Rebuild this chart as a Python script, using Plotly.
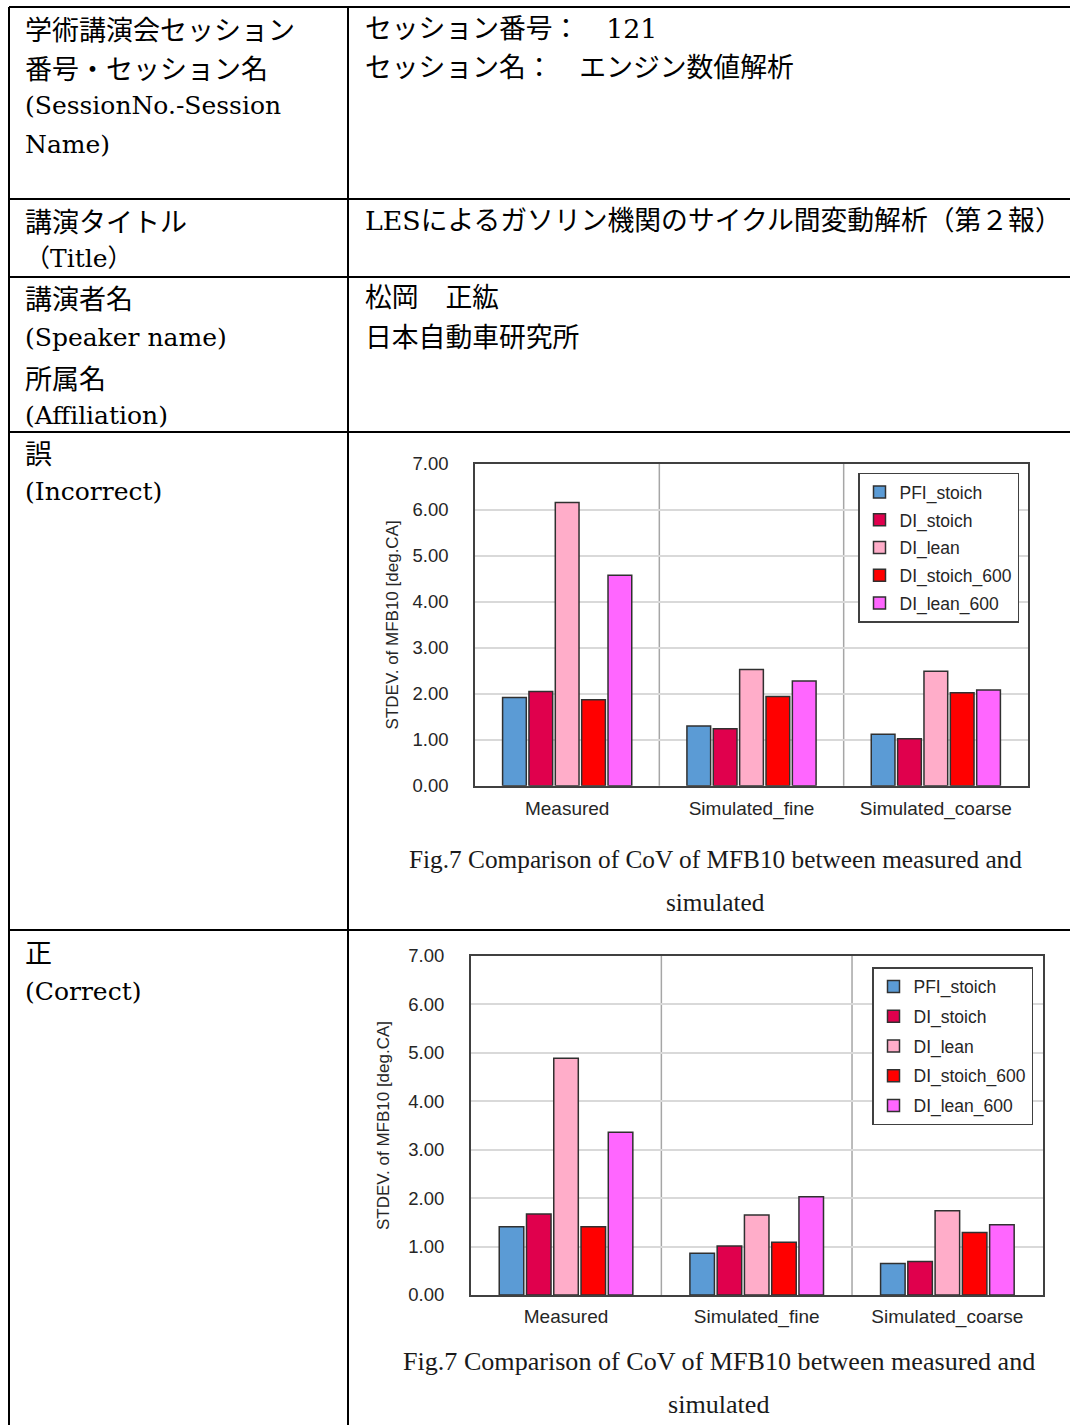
import plotly.graph_objects as go

# ---------------- data ----------------
categories = ["Measured", "Simulated_fine", "Simulated_coarse"]
series_names = ["PFI_stoich", "DI_stoich", "DI_lean", "DI_stoich_600", "DI_lean_600"]
series_colors = ["#5B9BD5", "#E0004D", "#FFADC9", "#FF0000", "#FF66FF"]

# 誤 (Incorrect) chart
incorrect_pfi_stoich = [1.92, 1.30, 1.12]
incorrect_di_stoich = [2.05, 1.24, 1.02]
incorrect_di_lean = [6.16, 2.53, 2.49]
incorrect_di_stoich_600 = [1.87, 1.94, 2.02]
incorrect_di_lean_600 = [4.58, 2.28, 2.08]

# 正 (Correct) chart
correct_pfi_stoich = [1.41, 0.86, 0.65]
correct_di_stoich = [1.67, 1.01, 0.69]
correct_di_lean = [4.89, 1.65, 1.74]
correct_di_stoich_600 = [1.41, 1.09, 1.29]
correct_di_lean_600 = [3.36, 2.03, 1.45]

y_tick_values = [0, 1, 2, 3, 4, 5, 6, 7]
y_axis_title = "STDEV. of MFB10 [deg.CA]"
caption_line1 = "Fig.7 Comparison of CoV of MFB10 between measured and"
caption_line2 = "simulated"

left_column_text = [
    "学術講演会セッション", "番号・セッション名", "(SessionNo.-Session", "Name)",
    "講演タイトル", "（Title）",
    "講演者名", "(Speaker name)", "所属名", "(Affiliation)",
    "誤", "(Incorrect)",
    "正", "(Correct)",
]
right_column_text = [
    "セッション番号：　121",
    "セッション名：　エンジン数値解析",
    "LESによるガソリン機関のサイクル間変動解析（第２報）",
    "松岡　正紘",
    "日本自動車研究所",
]

# ---------------- layout helpers ----------------
W, H = 1070, 1425


def px(x):
    return x / W


def py(y):
    return 1 - y / H


JP = "Noto Sans CJK JP"
SERIF = "DejaVu Serif, Noto Sans CJK JP"
SANS = "Liberation Sans, Arial, sans-serif"

fig = go.Figure()

incorrect_series = [incorrect_pfi_stoich, incorrect_di_stoich, incorrect_di_lean,
                    incorrect_di_stoich_600, incorrect_di_lean_600]
correct_series = [correct_pfi_stoich, correct_di_stoich, correct_di_lean,
                  correct_di_stoich_600, correct_di_lean_600]

for i, (name, vals) in enumerate(zip(series_names, incorrect_series)):
    fig.add_trace(go.Bar(
        x=categories, y=vals, name=name, xaxis="x", yaxis="y",
        marker=dict(color=series_colors[i], line=dict(color="#303030", width=1.5)),
        legend="legend", legendgroup=f"a{i}",
    ))
for i, (name, vals) in enumerate(zip(series_names, correct_series)):
    fig.add_trace(go.Bar(
        x=categories, y=vals, name=name, xaxis="x2", yaxis="y2",
        marker=dict(color=series_colors[i], line=dict(color="#303030", width=1.5)),
        legend="legend2", legendgroup=f"b{i}",
    ))


def xaxis_cfg(x0, x1, anchor, standoff):
    return dict(
        domain=[px(x0), px(x1)], anchor=anchor, type="category",
        range=[-0.5, 2.5], showline=True, linecolor="#404040", linewidth=1.5,
        mirror=True, showgrid=False, ticks="", ticklabelstandoff=standoff,
        tickfont=dict(family=SANS, size=19, color="#262626"), automargin=False,
    )


def yaxis_cfg(ytop, ybot, anchor, standoff):
    return dict(
        domain=[py(ybot), py(ytop)], anchor=anchor, range=[0, 7],
        tickvals=y_tick_values, tickformat=".2f", showgrid=True,
        gridcolor="#D9D9D9", gridwidth=1.5, zeroline=False,
        showline=True, linecolor="#404040", linewidth=1.5, mirror=True,
        ticks="", ticklabelstandoff=21,
        tickfont=dict(family=SANS, size=18.5, color="#262626"),
        title=dict(text=y_axis_title, standoff=standoff,
                   font=dict(family=SANS, size=17, color="#262626")),
        automargin=False,
    )


legend_common = dict(
    xanchor="right", yanchor="top", bordercolor="#404040", borderwidth=1.5,
    bgcolor="white", font=dict(family=SANS, size=17.5, color="#262626"),
    itemwidth=30, traceorder="grouped",
)

fig.update_layout(
    template="none",
    width=W, height=H, autosize=False,
    margin=dict(l=0, r=0, t=0, b=0),
    paper_bgcolor="white", plot_bgcolor="white",
    barmode="group", bargap=0.285, bargroupgap=0.1,
    xaxis=xaxis_cfg(475, 1028, "y", 5),
    yaxis=yaxis_cfg(464, 785.7, "x", 10),
    xaxis2=xaxis_cfg(470.7, 1042.7, "y2", 3),
    yaxis2=yaxis_cfg(956, 1295, "x2", 14),
    legend=dict(legend_common, x=px(1019), y=py(472.7), tracegroupgap=2),
    legend2=dict(legend_common, x=px(1033), y=py(967), tracegroupgap=4),
    showlegend=True,
)

shapes = []
# category separators inside charts
for xr, yr in (("x", "y domain"), ("x2", "y2 domain")):
    for xv in (0.5, 1.5):
        shapes.append(dict(type="line", xref=xr, yref=yr, x0=xv, x1=xv, y0=0, y1=1,
                           line=dict(color="#A6A6A6", width=1.5), layer="below"))
# table rules
for yv in (7, 199, 277, 432, 930):
    shapes.append(dict(type="line", xref="paper", yref="paper",
                       x0=px(9), x1=px(1070), y0=py(yv), y1=py(yv),
                       line=dict(color="black", width=2)))
for xv in (9, 348):
    shapes.append(dict(type="line", xref="paper", yref="paper",
                       x0=px(xv), x1=px(xv), y0=py(7), y1=py(1425),
                       line=dict(color="black", width=2)))
fig.update_layout(shapes=shapes)

annotations = []
left_y = [29, 67, 105, 145, 220, 259, 298, 338, 377, 415, 452, 491, 951, 991]
for txt, yv in zip(left_column_text, left_y):
    is_latin = any(c.isascii() and c.isalpha() for c in txt)
    annotations.append(dict(
        text=txt, xref="paper", yref="paper", x=px(23), y=py(yv),
        xanchor="left", yanchor="middle", showarrow=False,
        font=dict(family=SERIF if is_latin else JP, size=25 if is_latin else 27,
                  color="black"),
    ))
right_y = [29, 67, 220, 298, 338]
for txt, yv in zip(right_column_text, right_y):
    annotations.append(dict(
        text=txt, xref="paper", yref="paper", x=px(363), y=py(yv),
        xanchor="left", yanchor="middle", showarrow=False,
        font=dict(family=SERIF, size=26.8, color="black"),
    ))
# captions
for cx, y1, y2, size in ((715.5, 859, 902, 25.3), (718.5, 1361, 1404, 26.1)):
    annotations.append(dict(text=caption_line1, xref="paper", yref="paper",
                            x=px(cx), y=py(y1), xanchor="center", yanchor="middle",
                            showarrow=False,
                            font=dict(family="Liberation Serif", size=size, color="#1a1a1a")))
    annotations.append(dict(text=caption_line2, xref="paper", yref="paper",
                            x=px(cx), y=py(y2), xanchor="center", yanchor="middle",
                            showarrow=False,
                            font=dict(family="Liberation Serif", size=size, color="#1a1a1a")))
fig.update_layout(annotations=annotations)

fig.write_html(
    "out.html",
    config={"displayModeBar": False},
    post_script="document.body.style.margin='0';document.body.style.overflow='hidden';",
)
